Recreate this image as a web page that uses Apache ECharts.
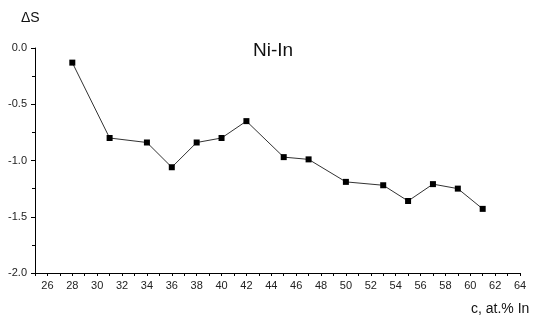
<!DOCTYPE html>
<html>
<head>
<meta charset="utf-8">
<script src="https://cdn.jsdelivr.net/npm/echarts@6/dist/echarts.min.js"></script>
<style>html,body{margin:0;padding:0;background:#fff;}#c{width:537px;height:323px;}</style>
</head>
<body>
<div id="c"></div>
<script>
var concentration = [28, 31, 34, 36, 38, 40, 42, 45, 47, 50, 53, 55, 57, 59, 61];
var deltaS = [-0.13, -0.80, -0.84, -1.06, -0.84, -0.80, -0.65, -0.97, -0.99, -1.19, -1.22, -1.36, -1.21, -1.25, -1.43];
var xMajorTicks = [26, 28, 30, 32, 34, 36, 38, 40, 42, 44, 46, 48, 50, 52, 54, 56, 58, 60, 62, 64];
var chartTitle = 'Ni-In';
var yName = '\u0394S';
var xName = 'c, at.% In';

var chart = echarts.init(document.getElementById('c'), null, {renderer: 'canvas'});
var font = 'Arial, "Liberation Sans", sans-serif';
chart.setOption({
  animation: false,
  backgroundColor: '#fff',
  grid: {left: 35, right: 17, top: 48, bottom: 50, containLabel: false},
  xAxis: {
    type: 'value', min: 25, max: 64, interval: 1,
    axisLine: {show: true, onZero: false, lineStyle: {color: '#000', width: 1}},
    axisTick: {show: true, length: 3, lineStyle: {color: '#000'}},
    axisLabel: {show: true, customValues: xMajorTicks, color: '#222', fontSize: 11, fontFamily: font, margin: 7},
    splitLine: {show: false}
  },
  yAxis: {
    type: 'value', min: -2, max: 0, interval: 0.5,
    axisLine: {show: true, onZero: false, lineStyle: {color: '#000', width: 1}},
    axisTick: {show: true, length: 4, lineStyle: {color: '#000'}},
    minorTick: {show: true, splitNumber: 2, length: 3, lineStyle: {color: '#000'}},
    axisLabel: {color: '#222', fontSize: 11, fontFamily: font, margin: 8,
      formatter: function (v) { return v.toFixed(1); }},
    splitLine: {show: false}
  },
  graphic: [
    {type: 'text', left: 253, top: 41, style: {text: chartTitle, font: '19px ' + font, fill: '#111'}},
    {type: 'text', left: 21, top: 11, style: {text: yName, font: '14px ' + font, fill: '#111'}},
    {type: 'text', left: 471, top: 302, style: {text: xName, font: '14px ' + font, fill: '#111'}}
  ],
  series: [{
    type: 'line',
    data: concentration.map(function (x, i) { return [x, deltaS[i]]; }),
    symbol: 'rect', symbolSize: 6,
    itemStyle: {color: '#000'},
    lineStyle: {color: '#333', width: 1}
  }]
});
</script>
</body>
</html>
